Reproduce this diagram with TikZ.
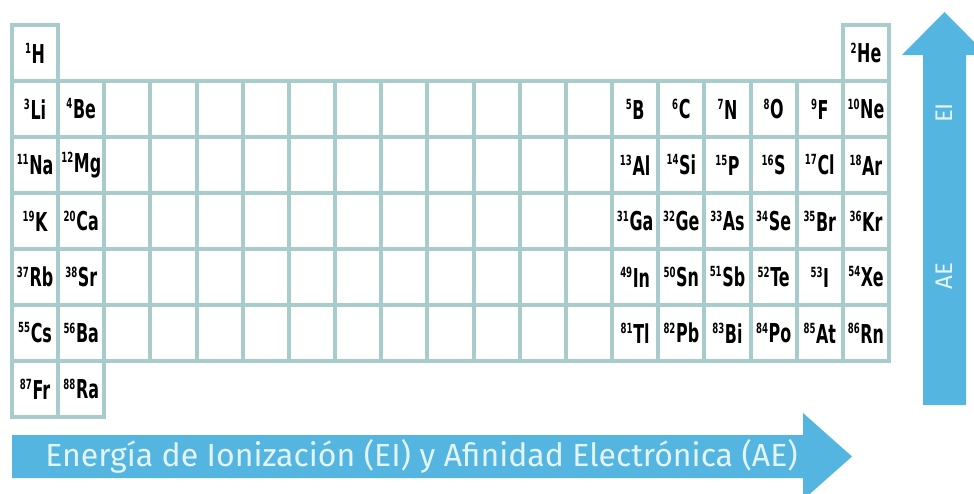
\documentclass[tikz,border=0pt]{standalone}
\usepackage{fontspec}
\setmainfont{Fira Sans}
\newfontfamily\elfont[FakeStretch=0.68]{DejaVu Sans Condensed}
\usetikzlibrary{positioning}

\definecolor{rejilla}{RGB}{168,204,204}
\definecolor{flecha}{RGB}{84,182,224}
\definecolor{rotulo}{RGB}{226,244,246}

\tikzset{
  celda/.style = {draw=rejilla, fill=white, line width=3pt, minimum width=34.6pt,
                  minimum height=42pt, inner sep=0pt,
                  font=\elfont\bfseries\fontsize{19.5}{19.5}\selectfont},
  eje/.style   = {text=rotulo, inner sep=0pt, font=\fontsize{24}{24}\selectfont},
}
% atomic number as a small raised prefix
\newcommand{\elem}[2]{\raisebox{0.38em}{\fontsize{10.5}{10.5}\selectfont #1}\kern0.5pt#2}

\begin{document}
\begin{tikzpicture}[x=0.75pt, y=-0.75pt]
\useasboundingbox (0,0) rectangle (974,493);
\clip (0,0) rectangle (974,493);

% empty transition block
\foreach \f in {2,...,6}
  \foreach \c in {3,...,13}
    \node[celda] (c-\f-\c) at ({12+(\c-0.5)*46.16},{25+(\f-0.5)*56}) {};

% elements
\foreach \f/\c/\z/\s in {1/1/1/H, 1/19/2/He,
    2/1/3/Li, 2/2/4/Be, 2/14/5/B, 2/15/6/C, 2/16/7/N, 2/17/8/O, 2/18/9/F, 2/19/10/Ne,
    3/1/11/Na, 3/2/12/Mg, 3/14/13/Al, 3/15/14/Si, 3/16/15/P, 3/17/16/S, 3/18/17/Cl, 3/19/18/Ar,
    4/1/19/K, 4/2/20/Ca, 4/14/31/Ga, 4/15/32/Ge, 4/16/33/As, 4/17/34/Se, 4/18/35/Br, 4/19/36/Kr,
    5/1/37/Rb, 5/2/38/Sr, 5/14/49/In, 5/15/50/Sn, 5/16/51/Sb, 5/17/52/Te, 5/18/53/I, 5/19/54/Xe,
    6/1/55/Cs, 6/2/56/Ba, 6/14/81/Tl, 6/15/82/Pb, 6/16/83/Bi, 6/17/84/Po, 6/18/85/At, 6/19/86/Rn,
    7/1/87/Fr, 7/2/88/Ra}
  \node[celda] (c-\f-\c) at ({12+(\c-0.5)*46.16},{25+(\f-0.5)*56}) {\elem{\z}{\s}};

% horizontal arrow
\fill[flecha] (12,435) -- (803,435) -- (803,413) -- (852,456.5) -- (803,500)
  -- (803,478) -- (12,478) -- cycle;
\node[eje, anchor=west] (textoH) at (45,456.5)
  {Energía de Ionización (EI) y Afinidad Electrónica (AE)};

% vertical arrow
\fill[flecha] (923,405) -- (923,55) -- (902,55) -- (944.5,12) -- (987,55)
  -- (966,55) -- (966,405) -- cycle;
\node[eje, rotate=90, font=\fontsize{18}{18}\selectfont] (textoEI) at (944.5,113) {EI};
\node[eje, rotate=90, font=\fontsize{18}{18}\selectfont] (textoAE) at (944.5,276) {AE};
\end{tikzpicture}
\end{document}
